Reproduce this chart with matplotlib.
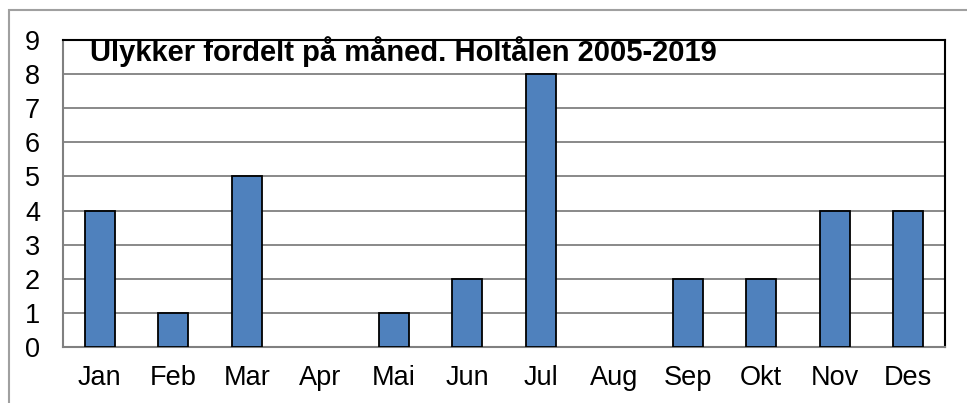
import matplotlib
matplotlib.use("Agg")
import matplotlib.pyplot as plt
from matplotlib.patches import Rectangle

months = ["Jan", "Feb", "Mar", "Apr", "Mai", "Jun", "Jul", "Aug", "Sep", "Okt", "Nov", "Des"]
accidents = [4, 1, 5, 0, 1, 2, 8, 0, 2, 2, 4, 4]
title = "Ulykker fordelt på måned. Holtålen 2005-2019"

plt.rcParams['font.family'] = ['Liberation Sans', 'DejaVu Sans']

W, H = 967, 403
fig = plt.figure(figsize=(W/100, H/100), dpi=100)
ax = fig.add_axes([63/W, 1-347/H, (945-63)/W, (347-40)/H])

# outer chart border (top & left visible)
fig.add_artist(Rectangle((9/W, -0.5), 2, 0.5 + (1-10/H), transform=fig.transFigure,
                         fill=False, edgecolor='#a0a0a0', linewidth=1.5))

x = list(range(len(months)))
lw = [1.3 if v > 0 else 0 for v in accidents]
ax.bar(x, accidents, width=0.41, color='#4F81BD', edgecolor='black', linewidth=lw, zorder=3)
ax.set_xlim(-0.5, len(months)-0.5)
ax.set_ylim(0, 9)
ax.set_yticks(range(10))
ax.set_xticks(x)
ax.set_xticklabels(months)
ax.yaxis.grid(True, color='#808080', linewidth=1.3, zorder=0)
ax.set_axisbelow(True)
ax.tick_params(axis='both', length=0, labelsize=19.5, colors='black')
ax.tick_params(axis='y', pad=22)
ax.tick_params(axis='x', pad=13)
for lab in ax.get_yticklabels():
    lab.set_horizontalalignment('center')
ax.spines['top'].set_color('black')
ax.spines['right'].set_color('black')
ax.spines['left'].set_color('#808080')
ax.spines['bottom'].set_color('#808080')
for s in ax.spines.values():
    s.set_linewidth(1.5)

ax.text(90/W, 1-52/H, title, transform=fig.transFigure, fontsize=21, fontweight='bold',
        va='center', ha='left', zorder=5)

fig.savefig("out.png", dpi=100, facecolor='white')
